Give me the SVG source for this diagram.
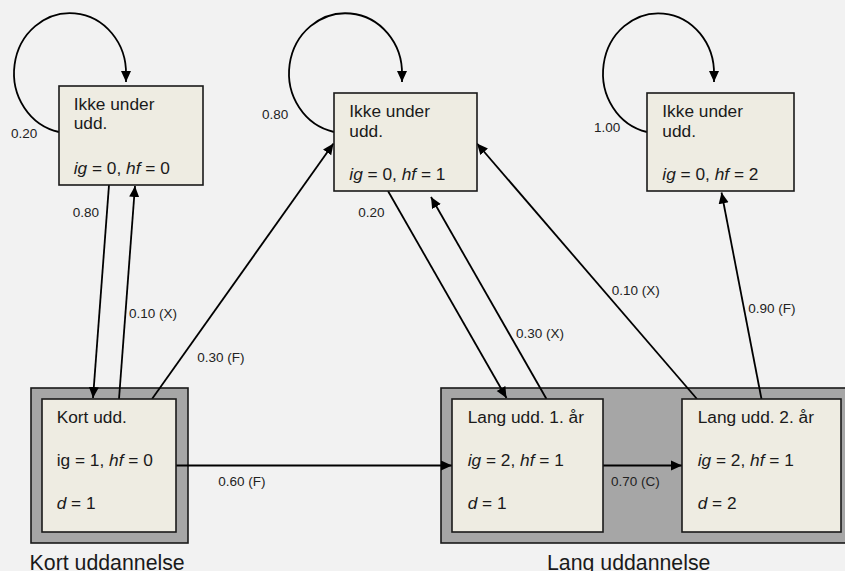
<svg xmlns="http://www.w3.org/2000/svg" width="845" height="571" viewBox="0 0 845 571">
<defs>
<marker id="arr" markerUnits="userSpaceOnUse" markerWidth="12" markerHeight="11" refX="11" refY="5" orient="auto" viewBox="0 0 12 10">
<path d="M0,0 L11,5 L0,10 z" fill="#000"/>
</marker>
<style>
.box{fill:#eeece2;stroke:#1a1a1a;stroke-width:1.6}
.grp{fill:#a6a6a6;stroke:#1a1a1a;stroke-width:1.6}
.t{font-family:"Liberation Sans",Arial,sans-serif;font-size:17.3px;fill:#1a1a1a}
.lbl{font-family:"Liberation Sans",Arial,sans-serif;font-size:13.5px;fill:#222}
.big{font-family:"Liberation Sans",Arial,sans-serif;font-size:21.3px;fill:#1a1a1a}
.c{fill:none;stroke:#000;stroke-width:1.8;marker-end:url(#arr)}
</style>
</defs>
<rect width="845" height="571" fill="#f2f2f2"/>
<g id="group-kort">
<rect class="grp" x="31" y="388" width="157" height="155"/>
<text class="big" x="29.6" y="570">Kort uddannelse</text>
</g>
<g id="group-lang">
<rect class="grp" x="441" y="388" width="410" height="155"/>
<text class="big" x="547" y="570">Lang uddannelse</text>
</g>
<g id="connectors">
<path class="c" d="M59 132 A56 60 0 1 1 126 75 L126 82"/>
<path class="c" d="M334 132 A56.5 60 0 1 1 402 75 L402 82"/>
<path class="c" d="M647 132 A55.5 60 0 1 1 714 75 L714 82"/>
<path class="c" d="M109 185 L93 398"/>
<path class="c" d="M119 399 L135 186"/>
<path class="c" d="M152 399 L333.5 143.5"/>
<path class="c" d="M388 191 L506.5 398"/>
<path class="c" d="M546.5 399 L431 197"/>
<path class="c" d="M697 399 L477 143.5"/>
<path class="c" d="M761.5 399 L721.5 192.5"/>
<path class="c" d="M176 465.5 L452 465.5"/>
<path class="c" d="M603 465.5 L682 465.5"/>
<text class="lbl" x="11" y="138">0.20</text>
<text class="lbl" x="262" y="119">0.80</text>
<text class="lbl" x="594" y="132">1.00</text>
<text class="lbl" x="72.7" y="217">0.80</text>
<text class="lbl" x="129" y="318">0.10 (X)</text>
<text class="lbl" x="197.3" y="361.5">0.30 (F)</text>
<text class="lbl" x="358.3" y="217">0.20</text>
<text class="lbl" x="516" y="338.3">0.30 (X)</text>
<text class="lbl" x="611.7" y="295">0.10 (X)</text>
<text class="lbl" x="748.3" y="313.3">0.90 (F)</text>
<text class="lbl" x="218.3" y="485.7">0.60 (F)</text>
<text class="lbl" x="611" y="485.7">0.70 (C)</text>
</g>
<g id="node-ikke0">
<rect class="box" x="59" y="86" width="144" height="99"/>
<text class="t" x="73.7" y="110">Ikke under</text>
<text class="t" x="73.7" y="129.3">udd.</text>
<text class="t" x="73.7" y="174"><tspan font-style="italic">ig</tspan> = 0, <tspan font-style="italic">hf</tspan> = 0</text>
</g>
<g id="node-ikke1">
<rect class="box" x="334" y="93" width="143" height="98"/>
<text class="t" x="349.3" y="116.7">Ikke under</text>
<text class="t" x="349.3" y="136.7">udd.</text>
<text class="t" x="349.3" y="180"><tspan font-style="italic">ig</tspan> = 0, <tspan font-style="italic">hf</tspan> = 1</text>
</g>
<g id="node-ikke2">
<rect class="box" x="647" y="93" width="147" height="98"/>
<text class="t" x="662.3" y="116.7">Ikke under</text>
<text class="t" x="662.3" y="136.7">udd.</text>
<text class="t" x="662.3" y="180"><tspan font-style="italic">ig</tspan> = 0, <tspan font-style="italic">hf</tspan> = 2</text>
</g>
<g id="node-kort">
<rect class="box" x="42" y="399" width="134" height="133"/>
<text class="t" x="56.7" y="422.7">Kort udd.</text>
<text class="t" x="56.7" y="466">ig = 1, <tspan font-style="italic">hf</tspan> = 0</text>
<text class="t" x="56.7" y="509.3"><tspan font-style="italic">d</tspan> = 1</text>
</g>
<g id="node-lang1">
<rect class="box" x="452" y="399" width="151" height="133"/>
<text class="t" x="467.7" y="422.7">Lang udd. 1. år</text>
<text class="t" x="467.7" y="466"><tspan font-style="italic">ig</tspan> = 2, <tspan font-style="italic">hf</tspan> = 1</text>
<text class="t" x="467.7" y="509.3"><tspan font-style="italic">d</tspan> = 1</text>
</g>
<g id="node-lang2">
<rect class="box" x="682" y="399" width="159" height="133"/>
<text class="t" x="697.7" y="422.7">Lang udd. 2. år</text>
<text class="t" x="697.7" y="466"><tspan font-style="italic">ig</tspan> = 2, <tspan font-style="italic">hf</tspan> = 1</text>
<text class="t" x="697.7" y="509.3"><tspan font-style="italic">d</tspan> = 2</text>
</g>
</svg>
